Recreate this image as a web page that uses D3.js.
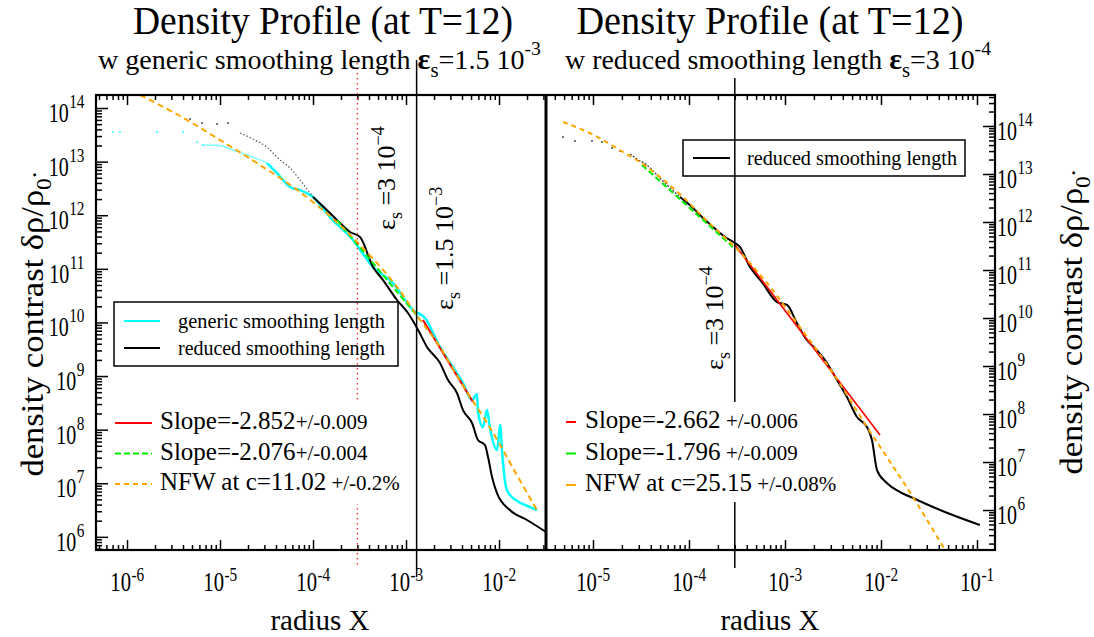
<!DOCTYPE html>
<html>
<head>
<meta charset="utf-8">
<script src="https://cdn.jsdelivr.net/npm/d3@7"></script>
<style>
body { margin: 0; background: #fff; }
text { font-family: "Liberation Serif", "Times New Roman", serif; fill: #000; }
</style>
</head>
<body>
<script>
// [radius X, density contrast] pairs

// left panel: generic smoothing length run
var genericSparseL = [[7.07e-7,3.56e13],[8.41e-7,3.56e13],[2.10e-6,3.56e13],[4.0e-6,3.56e13],[5.66e-6,2.32e13],[6.56e-6,2.04e13]];
var genericThinL = [[6.56e-6,2.04e13],[9.29e-6,2.04e13],[1.38e-5,1.64e13],[2.26e-5,1.22e13],[3.20e-5,9.42e12]];
var genericLineL = [[3.20e-5,9.42e12],[4.10e-5,6.12e12],[5.66e-5,3.36e12],
    [7.24e-5,2.95e12],[1.0e-4,2.19e12],[1.52e-4,9.25e11],[2.69e-4,3.44e11],[4.42e-4,1.08e11],[7.25e-4,5.43e10],[1.19e-3,1.70e10],
    [1.60e-3,1.21e10],[2.32e-3,3.48e9],[3.20e-3,1.47e9],[4.10e-3,7.40e8],[5.13e-3,3.56e8],[5.80e-3,4.61e8],[5.94e-3,2.13e8],
    [6.73e-3,1.12e8],[7.43e-3,2.32e8],[8.0e-3,1.07e8],[9.51e-3,4.16e7],[1.03e-2,1.22e8],[1.08e-2,3.82e7],[1.19e-2,8.49e6],
    [1.31e-2,6.03e6],[2.15e-2,3.60e6],[2.56e-2,3.16e6]];

// left panel: reduced smoothing length run
var reducedSparseL = [[4.75e-6,6.24e13],[6.40e-6,5.25e13],[9.29e-6,5.03e13],[1.22e-5,5.25e13]];
var reducedDottedL = [[1.64e-5,3.42e13],[2.26e-5,2.64e13],[3.20e-5,1.87e13],[4.42e-5,1.07e13],[5.66e-5,7.60e12],[7.24e-5,4.54e12],[1.0e-4,2.19e12]];
var reducedLineL = [[1.0e-4,2.19e12],[1.52e-4,1.10e12],[1.95e-4,7.14e11],[2.50e-4,4.86e11],[3.20e-4,3.92e11],[4.42e-4,1.08e11],
    [5.66e-4,6.18e10],[8.0e-4,2.62e10],[1.05e-3,1.50e10],[1.35e-3,7.21e9],[1.68e-3,3.48e9],[2.32e-3,1.75e9],[2.83e-3,8.41e8],
    [3.53e-3,4.82e8],[4.10e-3,2.32e8],[5.13e-3,1.33e8],[5.94e-3,6.40e7],[7.06e-3,5.16e7],[7.62e-3,3.08e7],[8.41e-3,1.31e7],
    [9.51e-3,6.56e6],[1.31e-2,3.16e6],[2.0e-2,2.06e6],[3.20e-2,1.23e6]];

var nfwL = [[1.38e-6,1.75e14],[3.72e-6,7.10e13],[1.0e-5,2.53e13],[2.69e-5,8.65e12],[7.24e-5,2.71e12],[1.52e-4,9.66e11],
    [3.20e-4,2.78e11],[8.0e-4,4.57e10],[1.42e-3,1.11e10],[2.32e-3,3.48e9],[3.81e-3,8.07e8],[7.43e-3,1.33e8],[1.03e-2,5.16e7],
    [1.49e-2,1.62e7],[2.56e-2,3.16e6]];
var slopeRedL = [[1.52e-3,1.11e10],[5.25e-3,3.27e8]];
var slopeGreenL = [[1.81e-4,8.13e11],[1.35e-3,1.26e10]];

// right panel: reduced smoothing length run
var reducedSparseR = [[4.87e-6,5.90e13],[6.49e-6,4.87e13],[9.77e-6,4.87e13],[1.24e-5,4.64e13],[1.58e-5,3.48e13],[1.91e-5,3.01e13]];
var reducedDottedR = [[2.43e-5,2.61e13],[2.87e-5,2.05e13],[3.65e-5,1.54e13],[4.64e-5,9.53e12],[5.90e-5,5.90e12],[8.05e-5,3.32e12]];
var reducedLineR = [[8.05e-5,3.32e12],[1.02e-4,2.26e12],[1.40e-4,1.21e12],[1.78e-4,7.87e11],[2.37e-4,4.87e11],[3.01e-4,3.65e11],
    [3.40e-4,3.01e11],[4.32e-4,1.15e11],[5.75e-4,5.62e10],[8.25e-4,2.15e10],[1.05e-3,1.87e10],[1.33e-3,7.87e9],[1.69e-3,3.48e9],
    [2.15e-3,2.15e9],[2.61e-3,1.33e9],[3.48e-3,5.11e8],[4.42e-3,2.26e8],[5.62e-3,8.66e7],[7.14e-3,5.36e7],[8.05e-3,2.87e7],
    [9.09e-3,6.81e6],[1.15e-2,3.65e6],[1.58e-2,2.37e6],[2.15e-2,1.78e6],[4.12e-2,1.0e6],[0.107,4.87e5]];
var nfwR = [[4.87e-6,1.21e14],[7.87e-6,8.25e13],[1.27e-5,5.11e13],[2.05e-5,2.87e13],[3.32e-5,1.60e13],[5.36e-5,7.70e12],
    [8.66e-5,3.32e12],[1.40e-4,1.27e12],[2.10e-4,5.90e11],[3.01e-4,3.01e11],[6.49e-4,5.36e10],[1.43e-3,6.49e9],[3.16e-3,7.15e8],
    [7.14e-3,5.36e7],[1.15e-2,1.27e7],[2.15e-2,1.87e6],[4.64e-2,1.47e5]];
var slopeRedR = [[3.01e-4,3.32e11],[9.77e-3,3.65e7]];
var slopeGreenR = [[3.24e-5,1.54e13],[2.87e-4,3.01e11]];

// smoothing lengths marked by vertical lines
var epsDottedL = 3e-4, epsLineL = 1.3e-3, epsLineR = 3e-4;

// axis ranges and tick labels
var xDomainL = [4.64e-7, 3.20e-2], yDomainL = [5.68e5, 1.75e14];
var xDomainR = [3.24e-6, 0.154], yDomainR = [1.47e5, 4.42e14];
var xExpL = [-6, -5, -4, -3, -2], xExpR = [-5, -4, -3, -2, -1];
var yExp = [6, 7, 8, 9, 10, 11, 12, 13, 14];

var titles = ["Density Profile (at T=12)", "Density Profile (at T=12)"];
var subtitles = [["w generic smoothing length ", "1.5 10", "-3"], ["w reduced smoothing length ", "3 10", "-4"]];
var slopeLegendL = [["Slope=-2.852", "+/-0.009"], ["Slope=-2.076", "+/-0.004"], ["NFW at c=11.02", "  +/-0.2%"]];
var slopeLegendR = [["Slope=-2.662", " +/-0.006"], ["Slope=-1.796", " +/-0.009"], ["NFW at c=25.15", " +/-0.08%"]];

window.onload = function(){
    var width = 1094, height = 637;
    var svg = d3.select("body").append("svg")
        .attr("width", width)
        .attr("height", height)
        .attr("font-family", "'Liberation Serif', 'Times New Roman', serif");

    var isMajor = function(v){ return Math.abs(Math.log10(v) - Math.round(Math.log10(v))) < 1e-6; };
    var logTicks = function(dom){
        var out = [];
        for (var e = Math.floor(Math.log10(dom[0])); e <= Math.ceil(Math.log10(dom[1])); e++)
            for (var k = 1; k < 10; k++){
                var v = k * Math.pow(10, e);
                if (v >= dom[0] && v <= dom[1]) out.push(v);
            }
        return out;
    };

    function makePanel(id, x0, x1, y0, y1, xDom, yDom){
        var p = {x0: x0, x1: x1, y0: y0, y1: y1};
        p.x = d3.scaleLog().domain(xDom).range([x0, x1]);
        p.y = d3.scaleLog().domain(yDom).range([y1, y0]);
        svg.append("clipPath").attr("id", "clip" + id)
            .append("rect").attr("x", x0).attr("y", y0).attr("width", x1 - x0).attr("height", y1 - y0);
        p.plot = svg.append("g").attr("clip-path", "url(#clip" + id + ")");
        p.line = d3.line().x(function(d){ return p.x(d[0]); }).y(function(d){ return p.y(d[1]); }).curve(d3.curveMonotoneX);
        p.straight = d3.line().x(function(d){ return p.x(d[0]); }).y(function(d){ return p.y(d[1]); });

        var xt = logTicks(xDom), yt = logTicks(yDom);
        //bottom and top ticks point inward
        var bx = svg.append("g").attr("transform", "translate(0," + y1 + ")")
            .call(d3.axisBottom(p.x).tickValues(xt).tickFormat("").tickSizeOuter(0));
        bx.selectAll(".tick line").attr("y2", function(d){ return isMajor(d) ? -10 : -5; });
        var tx = svg.append("g").attr("transform", "translate(0," + y0 + ")")
            .call(d3.axisTop(p.x).tickValues(xt).tickFormat("").tickSizeOuter(0));
        tx.selectAll(".tick line").attr("y2", function(d){ return isMajor(d) ? 10 : 5; });
        [bx, tx].forEach(function(g){
            g.select(".domain").remove();
            g.selectAll(".tick line").attr("stroke", "#000").attr("stroke-width", 1.5);
        });
        p.yTicks = yt;
        return p;
    }

    var L = makePanel("L", 96, 546, 95, 550, xDomainL, yDomainL);
    var R = makePanel("R", 546, 995, 95, 550, xDomainR, yDomainR);

    //vertical y-axis ticks: left side of left panel, right side of right panel
    var ly = svg.append("g").attr("transform", "translate(" + L.x0 + ",0)")
        .call(d3.axisLeft(L.y).tickValues(L.yTicks).tickFormat("").tickSizeOuter(0));
    ly.selectAll(".tick line").attr("x2", function(d){ return isMajor(d) ? 12 : 6; });
    var ry = svg.append("g").attr("transform", "translate(" + R.x1 + ",0)")
        .call(d3.axisRight(R.y).tickValues(R.yTicks).tickFormat("").tickSizeOuter(0));
    ry.selectAll(".tick line").attr("x2", function(d){ return isMajor(d) ? -12 : -6; });
    [ly, ry].forEach(function(g){
        g.select(".domain").remove();
        g.selectAll(".tick line").attr("stroke", "#000").attr("stroke-width", 1.5);
    });

    function dots(p, data, color){
        p.plot.selectAll(null).data(data).enter().append("rect")
            .attr("x", function(d){ return p.x(d[0]) - 1; })
            .attr("y", function(d){ return p.y(d[1]) - 1; })
            .attr("width", 2).attr("height", 2)
            .attr("fill", color);
    }
    function curve(p, data, color, w, dash, straight){
        p.plot.append("path").datum(data)
            .attr("d", straight ? p.straight : p.line)
            .attr("fill", "none")
            .attr("stroke", color)
            .attr("stroke-width", w)
            .attr("stroke-dasharray", dash || null)
            .attr("stroke-linejoin", "round");
    }

    //left panel curves
    dots(L, genericSparseL, "#66ffff");
    curve(L, genericThinL, "#66ffff", 1.2);
    curve(L, genericLineL, "#00ffff", 2.5);
    dots(L, reducedSparseL, "#777");
    curve(L, reducedDottedL, "#555", 1.2, "1.5,2");
    curve(L, reducedLineL, "#000", 2);
    curve(L, slopeGreenL, "#00ee00", 2, "6,3", true);
    curve(L, slopeRedL, "#ff0000", 2, null, true);
    curve(L, nfwL, "#ffa500", 2, "6,4");

    //right panel curves
    dots(R, reducedSparseR, "#777");
    curve(R, reducedDottedR, "#444", 1.3, "2,1.5");
    curve(R, reducedLineR, "#000", 2);
    curve(R, slopeGreenR, "#00ee00", 2, "6,3", true);
    curve(R, slopeRedR, "#ff0000", 1.6, null, true);
    curve(R, nfwR, "#ffa500", 2, "5,4");

    //smoothing length markers
    svg.append("line").attr("x1", L.x(epsDottedL)).attr("x2", L.x(epsDottedL))
        .attr("y1", 58).attr("y2", 565)
        .attr("stroke", "#ff3030").attr("stroke-width", 1.4).attr("stroke-dasharray", "1.5,3.5");
    svg.append("line").attr("x1", L.x(epsLineL)).attr("x2", L.x(epsLineL))
        .attr("y1", 60).attr("y2", 577)
        .attr("stroke", "#000").attr("stroke-width", 1.5);
    svg.append("line").attr("x1", R.x(epsLineR)).attr("x2", R.x(epsLineR))
        .attr("y1", 78).attr("y2", 568)
        .attr("stroke", "#000").attr("stroke-width", 1.5);

    //frames
    svg.append("rect").attr("x", L.x0).attr("y", L.y0).attr("width", R.x1 - L.x0).attr("height", L.y1 - L.y0)
        .attr("fill", "none").attr("stroke", "#000").attr("stroke-width", 2.2);
    svg.append("line").attr("x1", 546).attr("x2", 546).attr("y1", L.y0).attr("y2", L.y1)
        .attr("stroke", "#000").attr("stroke-width", 3);

    //tick labels: "10" and its exponent as two narrowed texts side by side
    function powLabel(x, y, exp, anchor, fs, sfs, dy){
        var kb = 0.74, ke = 0.85;
        var b = svg.append("text").style("font-size", fs + "px").text("10");
        var wb = b.node().getComputedTextLength() * kb;
        var e = svg.append("text").style("font-size", sfs + "px").text(exp);
        var we = e.node().getComputedTextLength() * ke;
        var left = anchor === "middle" ? x - (wb + we) / 2 : anchor === "end" ? x - wb - we : x;
        b.attr("transform", "translate(" + left + "," + y + ") scale(" + kb + ",1)");
        e.attr("transform", "translate(" + (left + wb + 0.5) + "," + (y + dy) + ") scale(" + ke + ",1)");
    }
    xExpL.forEach(function(e){ powLabel(L.x(Math.pow(10, e)), 591, String(e), "middle", 28, 18, -10); });
    xExpR.forEach(function(e){ powLabel(R.x(Math.pow(10, e)), 591, String(e), "middle", 28, 18, -10); });
    yExp.forEach(function(e){
        powLabel(84, L.y(Math.pow(10, e)) + 14, String(e), "end", 27, 18, -14);
        powLabel(997, R.y(Math.pow(10, e)) + 14, String(e), "start", 27, 18, -14);
    });

    //axis titles
    [320, 770].forEach(function(cx){
        svg.append("text").attr("x", cx).attr("y", 630).attr("text-anchor", "middle")
            .style("font-size", "29px").text("radius X");
    });
    function yTitle(x, cy){
        var t = svg.append("text").attr("transform", "translate(" + x + "," + cy + ") rotate(-90)")
            .attr("text-anchor", "middle").style("font-size", "31px");
        t.append("tspan").text("density contrast  \u03b4\u03c1/\u03c1");
        t.append("tspan").attr("dy", 8).style("font-size", "21px").text("0");
        t.append("tspan").attr("dy", -15).style("font-size", "24px").text(".");
        t.attr("textLength", 305).attr("lengthAdjust", "spacingAndGlyphs");
    }
    yTitle(43, 324);
    yTitle(1082, 322);

    //titles
    [[323, 380], [770, 387]].forEach(function(c, i){
        svg.append("text").attr("x", c[0]).attr("y", 34).attr("text-anchor", "middle")
            .style("font-size", "39px").attr("textLength", c[1]).attr("lengthAdjust", "spacingAndGlyphs")
            .text(titles[i]);
    });
    [[98, 443], [565, 426]].forEach(function(c, i){
        var s = subtitles[i];
        var t = svg.append("text").attr("x", c[0]).attr("y", 69).style("font-size", "27px")
            .attr("textLength", c[1]).attr("lengthAdjust", "spacingAndGlyphs");
        t.append("tspan").text(s[0]);
        t.append("tspan").style("font-size", "29px").style("font-weight", "bold").text("\u03b5");
        t.append("tspan").attr("dy", 8).style("font-size", "20px").text("s");
        t.append("tspan").attr("dy", -8).text("=" + s[1]);
        t.append("tspan").attr("dy", -14).style("font-size", "19px").text(s[2]);
    });

    //rotated smoothing length annotations
    function epsNote(x, y, val, exp){
        var t = svg.append("text").attr("transform", "translate(" + x + "," + y + ") rotate(-90)")
            .style("font-size", "26px");
        t.append("tspan").text("\u03b5");
        t.append("tspan").attr("dy", 7).style("font-size", "18px").text("s");
        t.append("tspan").attr("dy", -7).text(" =" + val + " 10");
        t.append("tspan").attr("dy", -11).style("font-size", "18px").text("\u2212" + exp);
    }
    epsNote(395, 230, "3", "4");
    epsNote(453, 310, "1.5", "3");
    epsNote(723, 370, "3", "4");

    //boxed legends
    svg.append("rect").attr("x", 114).attr("y", 302).attr("width", 284).attr("height", 64)
        .attr("fill", "none").attr("stroke", "#000").attr("stroke-width", 1.5);
    [["#00ffff", "generic smoothing length", 321], ["#000", "reduced smoothing length", 348]].forEach(function(e){
        svg.append("line").attr("x1", 124).attr("x2", 160).attr("y1", e[2]).attr("y2", e[2])
            .attr("stroke", e[0]).attr("stroke-width", 2);
        svg.append("text").attr("x", 178).attr("y", e[2] + 7).style("font-size", "22px")
            .attr("textLength", 207).attr("lengthAdjust", "spacingAndGlyphs").text(e[1]);
    });
    svg.append("rect").attr("x", 683).attr("y", 140).attr("width", 282).attr("height", 36)
        .attr("fill", "none").attr("stroke", "#000").attr("stroke-width", 1.5);
    svg.append("line").attr("x1", 693).attr("x2", 730).attr("y1", 158).attr("y2", 158)
        .attr("stroke", "#000").attr("stroke-width", 2);
    svg.append("text").attr("x", 747).attr("y", 165).style("font-size", "22px")
        .attr("textLength", 210).attr("lengthAdjust", "spacingAndGlyphs").text("reduced smoothing length");

    //fit legends on white backgrounds
    var fitStyles = [["#ff0000", null], ["#00ee00", "6,3"], ["#ffa500", "5,4"]];
    svg.append("rect").attr("x", 108).attr("y", 402).attr("width", 304).attr("height", 102).attr("fill", "#fff");
    svg.append("rect").attr("x", 556).attr("y", 402).attr("width", 286).attr("height", 100).attr("fill", "#fff");
    slopeLegendL.forEach(function(e, i){
        var yy = 423 + i * 30.5;
        svg.append("line").attr("x1", 115).attr("x2", 152).attr("y1", yy).attr("y2", yy)
            .attr("stroke", fitStyles[i][0]).attr("stroke-width", 2).attr("stroke-dasharray", fitStyles[i][1]);
        var t = svg.append("text").attr("x", 160).attr("y", yy + 6).style("font-size", "25px");
        t.append("tspan").text(e[0]);
        t.append("tspan").style("font-size", "21px").text(e[1]);
    });
    slopeLegendR.forEach(function(e, i){
        var yy = 422 + i * 31.5;
        svg.append("line").attr("x1", 566).attr("x2", 576).attr("y1", yy).attr("y2", yy)
            .attr("stroke", fitStyles[i][0]).attr("stroke-width", 2);
        var t = svg.append("text").attr("x", 585).attr("y", yy + 6).style("font-size", "25px");
        t.append("tspan").text(e[0]);
        t.append("tspan").style("font-size", "21px").text(e[1]);
    });
};
</script>
</body>
</html>
